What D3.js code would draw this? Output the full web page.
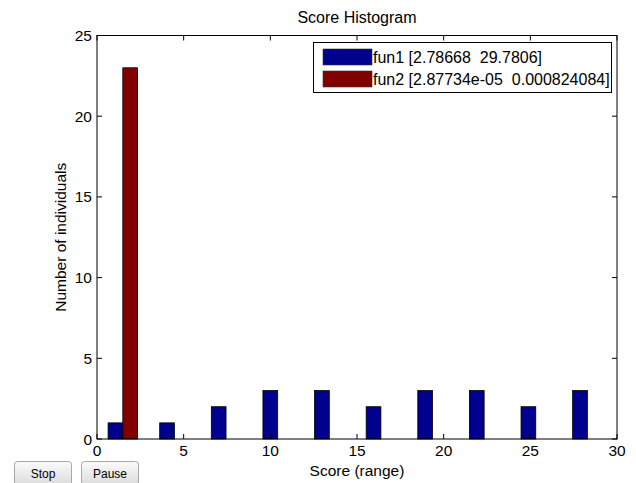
<!DOCTYPE html>
<html>
<head>
<meta charset="utf-8">
<script src="https://cdn.jsdelivr.net/npm/d3@7"></script>
<style>
  body { margin: 0; background: #fff; }
  svg { display: block; font-family: "Liberation Sans", Arial, sans-serif; }
  text { white-space: pre; }
</style>
</head>
<body>
<svg id="chart" width="636" height="483"></svg>
<script>
/* data */
const binCenters = [1.489, 4.467, 7.445, 10.423, 13.401, 16.379, 19.357, 22.335, 25.313, 28.291];
const fun1Counts = [1, 1, 2, 3, 3, 2, 3, 3, 2, 3];
const fun2Counts = [23, 0, 0, 0, 0, 0, 0, 0, 0, 0];
const seriesNames = ["fun1 [2.78668  29.7806]", "fun2 [2.87734e-05  0.000824084]"];
const seriesColors = ["#00008f", "#800000"];
const xTicks = [0, 5, 10, 15, 20, 25, 30];
const yTicks = [0, 5, 10, 15, 20, 25];

const svg = d3.select("#chart");
const plotL = 97, plotR = 617, plotT = 35.5, plotB = 439;
const fs = 15.5;

const x = d3.scaleLinear().domain([0, 30]).range([plotL, plotR]);
const y = d3.scaleLinear().domain([0, 25]).range([plotB, plotT]);

const barW = 0.85; // data units per bar
const series = [fun1Counts, fun2Counts];

series.forEach((vals, si) => {
    svg.append("g").selectAll("rect").data(vals).enter().append("rect")
        .attr("x", (d, i) => x(binCenters[i] - barW + si * barW))
        .attr("width", x(barW) - x(0))
        .attr("y", d => y(d))
        .attr("height", d => y(0) - y(d))
        .attr("fill", seriesColors[si])
        .attr("stroke", "#000")
        .attr("stroke-width", 0.8);
});

// axes box with inward ticks
const ax = svg.append("g").attr("font-size", fs).attr("fill", "#000");
ax.append("rect").attr("x", plotL).attr("y", plotT)
    .attr("width", plotR - plotL).attr("height", plotB - plotT)
    .attr("fill", "none").attr("stroke", "#000").attr("stroke-width", 1);

xTicks.forEach(t => {
    ax.append("line").attr("x1", x(t)).attr("x2", x(t)).attr("y1", plotB).attr("y2", plotB - 5).attr("stroke", "#000");
    ax.append("line").attr("x1", x(t)).attr("x2", x(t)).attr("y1", plotT).attr("y2", plotT + 5).attr("stroke", "#000");
    ax.append("text").attr("x", x(t)).attr("y", plotB + 17).attr("text-anchor", "middle").text(t);
});
yTicks.forEach(t => {
    ax.append("line").attr("x1", plotL).attr("x2", plotL + 5).attr("y1", y(t)).attr("y2", y(t)).attr("stroke", "#000");
    ax.append("line").attr("x1", plotR).attr("x2", plotR - 5).attr("y1", y(t)).attr("y2", y(t)).attr("stroke", "#000");
    ax.append("text").attr("x", plotL - 5).attr("y", y(t) + 5.5).attr("text-anchor", "end").text(t);
});

svg.append("text").attr("x", (plotL + plotR) / 2).attr("y", 23).attr("text-anchor", "middle")
    .attr("font-size", 16).text("Score Histogram");
svg.append("text").attr("x", (plotL + plotR) / 2).attr("y", 476).attr("text-anchor", "middle")
    .attr("font-size", fs).text("Score (range)");
svg.append("text").attr("transform", `translate(66,${(plotT + plotB) / 2}) rotate(-90)`)
    .attr("text-anchor", "middle").attr("font-size", fs).text("Number of individuals");

// legend
const lg = svg.append("g");
lg.append("rect").attr("x", 313.5).attr("y", 42.5).attr("width", 298).attr("height", 50)
    .attr("fill", "#fff").attr("stroke", "#000");
seriesNames.forEach((name, i) => {
    lg.append("rect").attr("x", 323).attr("y", 49 + i * 22).attr("width", 49).attr("height", 16)
        .attr("fill", seriesColors[i]).attr("stroke", "#333").attr("stroke-width", 0.6);
    lg.append("text").attr("x", 373).attr("y", 62.5 + i * 22).attr("font-size", 16).text(name);
});

// buttons
const defs = svg.append("defs");
const grad = defs.append("linearGradient").attr("id", "btn").attr("x1", 0).attr("x2", 0).attr("y1", 0).attr("y2", 1);
grad.append("stop").attr("offset", "0%").attr("stop-color", "#fbfbfb");
grad.append("stop").attr("offset", "100%").attr("stop-color", "#d8d8d8");
[["Stop", 14], ["Pause", 81]].forEach(([label, bx]) => {
    svg.append("rect").attr("x", bx + 0.5).attr("y", 461.5).attr("width", 57).attr("height", 26).attr("rx", 3)
        .attr("fill", "url(#btn)").attr("stroke", "#a8a8a8");
    svg.append("text").attr("x", bx + 29).attr("y", 478).attr("text-anchor", "middle")
        .attr("font-size", 12).text(label);
});
</script>
</body>
</html>
